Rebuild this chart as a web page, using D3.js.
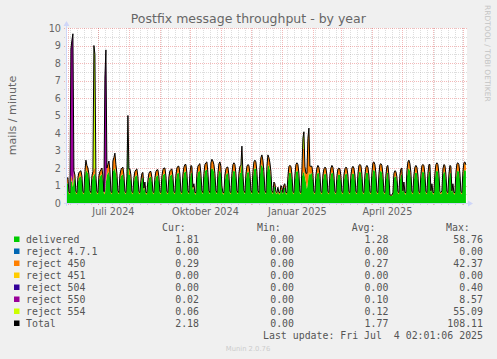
<!DOCTYPE html>
<html>
<head>
<meta charset="utf-8">
<script src="https://cdn.jsdelivr.net/npm/d3@7"></script>
<style>
body { margin: 0; background: #f0f0f0; }
svg { display: block; }
text { font-family: "DejaVu Sans", sans-serif; }
.mono { font-family: "DejaVu Sans Mono", monospace; font-size: 9.9px; fill: #555; white-space: pre; }
</style>
</head>
<body>
<svg id="chart" width="497" height="359"></svg>
<script>
// daily averages, first day = Thu 30 May 2024, rows are Mon..Sun weeks
let delivered = [
    1.1, 1.15, 0.55, 0.5,
    1.3, 1.2, 0.9, 1.5, 1.3, 0.55, 0.5,
    1.2, 1.45, 1.5, 1.55, 1.3, 0.55, 0.5,
    1.5, 1.95, 1.8, 1.7, 1.4, 0.6, 0.5,
    1.3, 1.5, 1.6, 1.7, 1.3, 0.55, 0.5,
    1.3, 1.5, 1.6, 1.65, 1.3, 0.55, 0.5,
    1.2, 1.6, 1.7, 1.8, 1.5, 0.55, 0.5,
    1.8, 1.9, 2.0, 1.7, 1.4, 0.6, 0.5,
    1.3, 1.55, 1.6, 1.65, 1.3, 0.55, 0.5,
    1.2, 4.4, 1.6, 1.6, 1.3, 0.55, 0.5,
    1.2, 1.5, 1.55, 1.6, 1.25, 0.55, 0.5,
    1.1, 1.4, 1.45, 0.7, 1.0, 0.5, 0.5,
    1.1, 1.4, 1.5, 1.5, 1.2, 0.55, 0.5,
    1.2, 1.5, 1.55, 1.6, 1.25, 0.55, 0.5,
    1.3, 1.6, 1.65, 1.7, 1.3, 0.55, 0.5,
    1.25, 1.55, 1.6, 1.65, 1.3, 0.55, 0.5,
    1.3, 1.65, 1.75, 1.7, 1.35, 0.55, 0.5,
    1.35, 1.7, 1.8, 1.8, 1.4, 0.6, 0.5,
    1.4, 1.75, 1.7, 0.75, 0.9, 0.5, 0.5,
    1.4, 1.75, 1.8, 1.85, 1.4, 0.6, 0.5,
    1.4, 1.8, 1.9, 1.9, 1.45, 0.6, 0.5,
    1.9, 2.0, 1.95, 1.8, 1.4, 0.6, 0.5,
    1.4, 1.8, 1.85, 1.7, 0.8, 0.5, 0.5,
    1.3, 1.6, 1.7, 1.7, 1.3, 0.55, 0.5,
    1.4, 1.8, 1.85, 1.8, 1.4, 0.6, 0.5,
    1.4, 1.7, 1.75, 2.75, 1.4, 0.6, 0.5,
    1.35, 1.7, 1.8, 1.75, 1.4, 0.6, 0.5,
    1.45, 1.9, 2.0, 1.95, 1.5, 0.6, 0.5,
    1.6, 2.1, 2.2, 2.0, 1.5, 0.6, 0.5,
    1.7, 2.2, 2.1, 1.9, 1.5, 0.6, 0.5,
    1.0, 0.9, 0.55, 0.5, 0.75, 0.5, 0.5,
    0.8, 0.75, 0.5, 0.85, 0.9, 0.5, 0.5,
    1.2, 1.7, 1.75, 1.7, 1.35, 0.55, 0.5,
    1.3, 1.75, 1.85, 1.8, 1.4, 0.55, 0.5,
    1.5, 1.7, 1.8, 1.5, 1.2, 0.8, 1.2,
    1.8, 1.6, 1.7, 1.7, 1.35, 0.55, 0.5,
    1.3, 1.65, 1.75, 1.7, 1.35, 0.55, 0.5,
    1.3, 1.6, 1.7, 1.65, 1.3, 0.55, 0.5,
    1.3, 1.65, 1.75, 1.7, 1.3, 0.55, 0.5,
    1.25, 1.6, 1.65, 1.6, 1.3, 0.55, 0.5,
    1.3, 1.6, 1.7, 1.65, 1.3, 0.55, 0.5,
    1.3, 1.65, 1.7, 1.65, 1.3, 0.55, 0.5,
    1.35, 1.75, 1.8, 1.75, 1.35, 0.55, 0.5,
    1.3, 1.7, 1.75, 1.7, 1.3, 0.55, 0.5,
    1.4, 1.85, 1.9, 1.8, 1.4, 0.55, 0.5,
    1.35, 1.8, 1.85, 1.75, 1.35, 0.55, 0.5,
    1.3, 1.7, 1.75, 1.3, 0.4, 0.4, 0.4,
    0.5, 1.4, 1.55, 1.5, 1.25, 0.55, 0.5,
    1.3, 1.6, 1.65, 0.6, 1.0, 0.5, 0.5,
    1.5, 1.9, 2.0, 1.85, 1.45, 0.55, 0.5,
    1.3, 1.7, 1.75, 1.7, 1.3, 0.55, 0.5,
    1.35, 1.75, 1.8, 1.75, 1.35, 0.55, 0.5,
    1.4, 1.8, 1.8, 0.6, 0.9, 0.5, 0.5,
    1.4, 1.8, 1.85, 1.8, 1.4, 0.55, 0.5,
    0.6, 1.6, 1.8, 1.75, 1.35, 0.55, 0.5,
    1.35, 1.75, 1.7, 0.6, 0.9, 0.5, 0.5,
    1.4, 1.8, 1.85, 1.8, 1.4, 0.55, 0.5,
    1.45, 1.85, 1.9, 1.81
]

let reject450 = [
    0.3, 0.3, 0.1, 0.08,
    0.3, 0.2, 0.2, 0.35, 0.3, 0.1, 0.1,
    0.25, 0.3, 0.3, 0.3, 0.25, 0.1, 0.1,
    0.3, 0.5, 0.35, 0.3, 0.25, 0.1, 0.1,
    0.25, 0.3, 0.35, 0.3, 0.25, 0.1, 0.1,
    0.25, 0.3, 0.3, 0.35, 0.25, 0.1, 0.1,
    0.25, 0.4, 0.5, 0.6, 0.4, 0.1, 0.1,
    0.6, 0.7, 0.85, 0.5, 0.3, 0.1, 0.1,
    0.3, 0.35, 0.4, 0.4, 0.3, 0.1, 0.1,
    0.3, 0.6, 0.35, 0.35, 0.3, 0.1, 0.1,
    0.25, 0.3, 0.35, 0.35, 0.25, 0.1, 0.1,
    0.2, 0.3, 0.3, 0.15, 0.2, 0.1, 0.1,
    0.2, 0.3, 0.3, 0.3, 0.25, 0.1, 0.1,
    0.25, 0.3, 0.35, 0.3, 0.25, 0.1, 0.1,
    0.25, 0.3, 0.35, 0.3, 0.25, 0.1, 0.1,
    0.25, 0.3, 0.3, 0.3, 0.25, 0.1, 0.1,
    0.3, 0.35, 0.35, 0.4, 0.3, 0.1, 0.1,
    0.3, 0.35, 0.4, 0.4, 0.3, 0.1, 0.1,
    0.3, 0.4, 0.4, 0.15, 0.2, 0.1, 0.1,
    0.3, 0.35, 0.4, 0.4, 0.3, 0.1, 0.1,
    0.3, 0.4, 0.4, 0.45, 0.3, 0.1, 0.1,
    0.4, 0.5, 0.45, 0.4, 0.3, 0.1, 0.1,
    0.3, 0.45, 0.5, 0.4, 0.15, 0.1, 0.1,
    0.3, 0.35, 0.35, 0.35, 0.3, 0.1, 0.1,
    0.3, 0.4, 0.45, 0.4, 0.3, 0.1, 0.1,
    0.3, 0.4, 0.4, 0.5, 0.3, 0.1, 0.1,
    0.3, 0.4, 0.4, 0.4, 0.3, 0.1, 0.1,
    0.35, 0.45, 0.45, 0.4, 0.3, 0.1, 0.1,
    0.4, 0.5, 0.55, 0.45, 0.3, 0.1, 0.1,
    0.4, 0.55, 0.5, 0.4, 0.3, 0.1, 0.1,
    0.2, 0.2, 0.1, 0.1, 0.15, 0.1, 0.1,
    0.2, 0.15, 0.1, 0.2, 0.2, 0.1, 0.1,
    0.3, 0.4, 0.4, 0.4, 0.3, 0.1, 0.1,
    0.3, 0.45, 0.45, 0.4, 0.3, 0.1, 0.1,
    0.4, 1.4, 1.3, 0.6, 0.5, 0.9, 2.5,
    2.48, 0.5, 0.4, 0.4, 0.3, 0.1, 0.1,
    0.3, 0.35, 0.4, 0.35, 0.3, 0.1, 0.1,
    0.3, 0.35, 0.35, 0.35, 0.3, 0.1, 0.1,
    0.3, 0.35, 0.4, 0.35, 0.3, 0.1, 0.1,
    0.3, 0.35, 0.35, 0.35, 0.25, 0.1, 0.1,
    0.3, 0.35, 0.35, 0.35, 0.3, 0.1, 0.1,
    0.3, 0.35, 0.4, 0.35, 0.3, 0.1, 0.1,
    0.3, 0.4, 0.4, 0.4, 0.3, 0.1, 0.1,
    0.3, 0.35, 0.4, 0.35, 0.3, 0.1, 0.1,
    0.35, 0.45, 0.45, 0.4, 0.3, 0.1, 0.1,
    0.3, 0.4, 0.4, 0.4, 0.3, 0.1, 0.1,
    0.3, 0.4, 0.4, 0.3, 0.05, 0.05, 0.05,
    0.1, 0.3, 0.3, 0.3, 0.25, 0.1, 0.1,
    0.3, 0.35, 0.35, 0.1, 0.2, 0.1, 0.1,
    0.35, 0.45, 0.45, 0.4, 0.3, 0.1, 0.1,
    0.3, 0.35, 0.4, 0.35, 0.3, 0.1, 0.1,
    0.3, 0.4, 0.4, 0.4, 0.3, 0.1, 0.1,
    0.3, 0.4, 0.4, 0.1, 0.2, 0.1, 0.1,
    0.3, 0.4, 0.45, 0.4, 0.3, 0.1, 0.1,
    0.1, 0.35, 0.4, 0.4, 0.3, 0.1, 0.1,
    0.3, 0.4, 0.4, 0.1, 0.2, 0.1, 0.1,
    0.35, 0.45, 0.45, 0.4, 0.3, 0.1, 0.1,
    0.35, 0.45, 0.45, 0.29
]

// sparse series: day index (0 = 30 May 2024) and value
let reject550Days = [4, 5, 6, 38, 39, 399]
let reject550Vals = [7.2, 7.9, 8.57, 6.6, 7.3, 0.02]
let reject554Days = [27, 28, 236, 237, 399]
let reject554Vals = [7.05, 6.5, 0.6, 0.97, 0.06]

let keys = ['delivered', 'r471', 'r450', 'r451', 'r504', 'r550', 'r554']
let colors = ['#00cc00', '#0066b3', '#ff8000', '#ffcc00', '#330099', '#990099', '#ccff00']

let legendNames = ['delivered', 'reject 4.7.1', 'reject 450', 'reject 451', 'reject 504', 'reject 550', 'reject 554', 'Total']
let legendColors = colors.concat(['#000000'])
let curVals = ['1.81', '0.00', '0.29', '0.00', '0.00', '0.02', '0.06', '2.18']
let minVals = ['0.00', '0.00', '0.00', '0.00', '0.00', '0.00', '0.00', '0.00']
let avgVals = ['1.28', '0.00', '0.27', '0.00', '0.00', '0.10', '0.12', '1.77']
let maxVals = ['58.76', '0.00', '42.37', '0.00', '0.40', '8.57', '55.09', '108.11']

let yTicks = [0, 1, 2, 3, 4, 5, 6, 7, 8, 9, 10]

let day0 = new Date(2024, 4, 30)
let tStart = new Date(2024, 4, 30, 2, 1, 6)
let tEnd = new Date(2025, 6, 4, 2, 1, 6)

let de = d3.timeFormatLocale({
    dateTime: '%A, der %e. %B %Y, %X', date: '%d.%m.%Y', time: '%H:%M:%S',
    periods: ['AM', 'PM'],
    days: ['Sonntag', 'Montag', 'Dienstag', 'Mittwoch', 'Donnerstag', 'Freitag', 'Samstag'],
    shortDays: ['So', 'Mo', 'Di', 'Mi', 'Do', 'Fr', 'Sa'],
    months: ['Januar', 'Februar', 'März', 'April', 'Mai', 'Juni', 'Juli', 'August', 'September', 'Oktober', 'November', 'Dezember'],
    shortMonths: ['Jan', 'Feb', 'Mrz', 'Apr', 'Mai', 'Jun', 'Jul', 'Aug', 'Sep', 'Okt', 'Nov', 'Dez']
})
let monthFmt = de.format('%B %Y')

let svg = d3.select('#chart')
svg.append('rect').attr('width', 497).attr('height', 359).attr('fill', '#f0f0f0')

let x = d3.scaleTime().domain([tStart, tEnd]).range([66.5, 466.5])
let y = d3.scaleLinear().domain([0, 10]).range([203, 28])
let px = v => Math.round(v) + 0.5
let dayX = i => x(d3.timeHour.offset(d3.timeDay.offset(day0, i), 12))

// canvas
svg.append('rect')
    .attr('x', 67).attr('y', 28)
    .attr('width', 400).attr('height', 175)
    .attr('fill', '#ffffff')

// grid
let grid = svg.append('g')
let minorStroke = 'rgba(143,143,143,0.3)'
let majorStroke = 'rgba(224,80,80,0.4)'

d3.range(0.5, 10, 1).forEach(v => {
    grid.append('line')
        .attr('x1', 64).attr('x2', 467)
        .attr('y1', px(y(v))).attr('y2', px(y(v)))
        .attr('stroke', minorStroke).attr('stroke-dasharray', '1,1')
})
d3.timeMonday.range(tStart, tEnd).forEach(d => {
    grid.append('line')
        .attr('x1', px(x(d))).attr('x2', px(x(d)))
        .attr('y1', 28).attr('y2', 205)
        .attr('stroke', minorStroke).attr('stroke-dasharray', '1,1')
})
yTicks.filter(v => v > 0).forEach(v => {
    grid.append('line')
        .attr('x1', 64).attr('x2', 467)
        .attr('y1', px(y(v))).attr('y2', px(y(v)))
        .attr('stroke', majorStroke).attr('stroke-dasharray', '1,1')
})
d3.timeMonth.range(tStart, tEnd).forEach(d => {
    grid.append('line')
        .attr('x1', px(x(d))).attr('x2', px(x(d)))
        .attr('y1', 28).attr('y2', 206)
        .attr('stroke', majorStroke).attr('stroke-dasharray', '1,1')
})

// stacked data
let rows = delivered.map((v, i) => ({
    delivered: v, r471: 0, r450: reject450[i], r451: 0, r504: 0, r550: 0, r554: 0
}))
reject550Days.forEach((d, k) => { rows[d].r550 = reject550Vals[k] })
reject554Days.forEach((d, k) => { rows[d].r554 = reject554Vals[k] })

let stacked = d3.stack().keys(keys)(rows)

let area = d3.area()
    .x((d, i) => dayX(i))
    .y0(d => y(d[0]))
    .y1(d => y(d[1]))

svg.append('g')
    .selectAll('path')
    .data(stacked)
    .join('path')
    .attr('d', area)
    .attr('fill', (d, i) => colors[i])

let totals = stacked[stacked.length - 1].map(d => d[1])
let line = d3.line()
    .x((d, i) => dayX(i))
    .y(d => y(d))

svg.append('path')
    .datum(totals)
    .attr('d', line)
    .attr('fill', 'none')
    .attr('stroke', '#000')
    .attr('stroke-width', 1)

// axes
let axisColor = '#cfd6f8'
svg.append('line')
    .attr('x1', 64).attr('x2', 470)
    .attr('y1', 203.5).attr('y2', 203.5)
    .attr('stroke', axisColor)
svg.append('line')
    .attr('x1', 66.5).attr('x2', 66.5)
    .attr('y1', 206).attr('y2', 24)
    .attr('stroke', axisColor)
svg.append('path').attr('d', 'M468,200.5L473,203.5L468,206.5Z').attr('fill', axisColor)
svg.append('path').attr('d', 'M63.5,26L66.5,21L69.5,26Z').attr('fill', axisColor)

svg.append('g')
    .selectAll('text')
    .data(yTicks)
    .join('text')
    .attr('x', 61)
    .attr('y', d => y(d) + 3.5)
    .attr('text-anchor', 'end')
    .attr('font-size', 9.7)
    .attr('fill', '#666')
    .text(d => d)

let labelMonths = d3.timeMonth.every(3).range(tStart, tEnd)
    .filter(d => x(d3.timeDay.offset(d, 15)) < 440)
svg.append('g')
    .selectAll('text')
    .data(labelMonths)
    .join('text')
    .attr('x', d => x(d3.timeDay.offset(d, 15)))
    .attr('y', 215)
    .attr('text-anchor', 'middle')
    .attr('font-size', 9.7)
    .attr('fill', '#666')
    .text(d => monthFmt(d))

// titles
svg.append('text')
    .attr('x', 248.3).attr('y', 23)
    .attr('text-anchor', 'middle')
    .attr('font-size', 12.5)
    .attr('fill', '#666')
    .text('Postfix message throughput - by year')

svg.append('text')
    .attr('transform', 'translate(15.5,115.5) rotate(-90)')
    .attr('text-anchor', 'middle')
    .attr('font-size', 11.1)
    .attr('fill', '#666')
    .text('mails / minute')

svg.append('text')
    .attr('transform', 'translate(484.5,5) rotate(90)')
    .attr('font-size', 7.5)
    .attr('fill', '#c4c4c4')
    .text('RRDTOOL / TOBI OETIKER')

// legend
let legend = svg.append('g')
let headers = [['Cur:', 162], ['Min:', 257], ['Avg:', 351.7], ['Max:', 446]]
headers.forEach(([t, hx]) => {
    legend.append('text').attr('class', 'mono').attr('x', hx).attr('y', 231.3).text(t)
})

legendNames.forEach((name, i) => {
    let cy = 239.3 + i * 12
    legend.append('rect')
        .attr('x', 14).attr('y', cy - 2.8)
        .attr('width', 5.5).attr('height', 5.5)
        .attr('fill', legendColors[i])
    legend.append('text').attr('class', 'mono').attr('x', 26).attr('y', cy + 3.6).text(name)
    let cols = [[curVals, 199], [minVals, 294], [avgVals, 388.4], [maxVals, 483]]
    cols.forEach(([vals, cx]) => {
        legend.append('text').attr('class', 'mono')
            .attr('x', cx).attr('y', cy + 3.6)
            .attr('text-anchor', 'end')
            .text(vals[i])
    })
})

legend.append('text').attr('class', 'mono')
    .attr('x', 483).attr('y', 338.9)
    .attr('text-anchor', 'end')
    .text('Last update: Fri Jul  4 02:01:06 2025')

svg.append('text')
    .attr('x', 248).attr('y', 351)
    .attr('text-anchor', 'middle')
    .attr('font-size', 6.8)
    .attr('fill', '#cccccc')
    .text('Munin 2.0.76')
</script>
</body>
</html>
